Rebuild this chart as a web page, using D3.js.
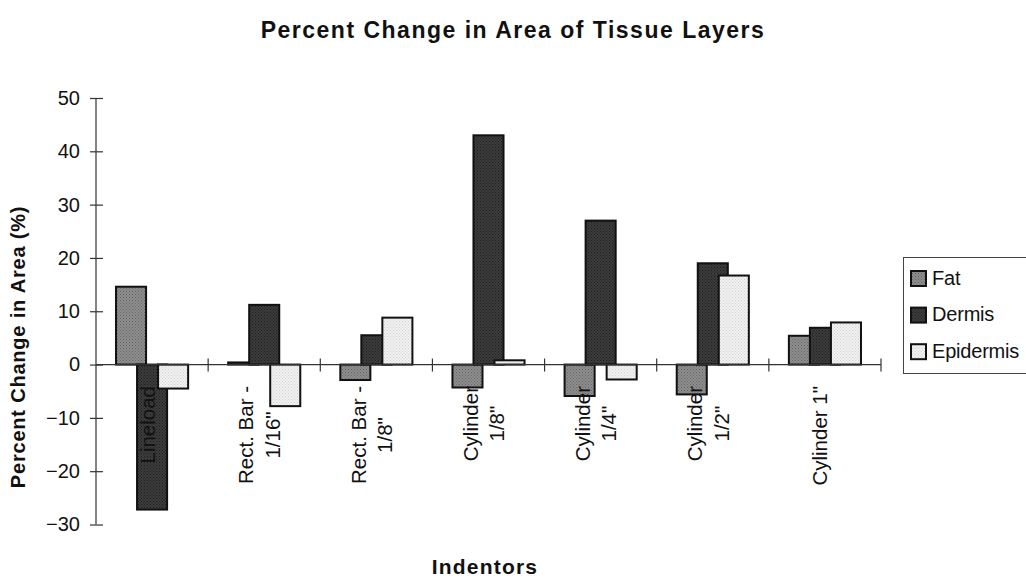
<!DOCTYPE html>
<html>
<head>
<meta charset="utf-8">
<script src="https://cdn.jsdelivr.net/npm/d3@7"></script>
<style>
  html, body { margin: 0; padding: 0; background: #fff; }
  svg { display: block; font-family: "Liberation Sans", Arial, Helvetica, sans-serif; }
</style>
</head>
<body>
<svg id="chart" width="1026" height="581"></svg>
<script>
// ---- data ----
const categories = ["Lineload", "Rect. Bar - 1/16\"", "Rect. Bar - 1/8\"", "Cylinder 1/8\"", "Cylinder 1/4\"", "Cylinder 1/2\"", "Cylinder 1\""];
const categoryLines = [["Lineload"], ["Rect. Bar -", "1/16\""], ["Rect. Bar -", "1/8\""], ["Cylinder", "1/8\""], ["Cylinder", "1/4\""], ["Cylinder", "1/2\""], ["Cylinder 1\""]];
const seriesNames = ["Fat", "Dermis", "Epidermis"];
const fatValues = [14.6, 0.4, -2.9, -4.3, -5.9, -5.6, 5.4];
const dermisValues = [-27.2, 11.2, 5.5, 43.0, 27.0, 19.0, 6.9];
const epidermisValues = [-4.5, -7.8, 8.8, 0.8, -2.8, 16.7, 7.9];
const yTicks = [-30, -20, -10, 0, 10, 20, 30, 40, 50];
const titleText = "Percent Change in Area of Tissue Layers";
const xTitle = "Indentors";
const yTitle = "Percent Change in Area (%)";

const seriesValues = [fatValues, dermisValues, epidermisValues];
const seriesFill = ["url(#patFat)", "url(#patDermis)", "url(#patEpi)"];

const svg = d3.select("#chart");

// patterns (stippled fills)
const defs = svg.append("defs");
function makePattern(id, bg, dot) {
  const p = defs.append("pattern").attr("id", id).attr("patternUnits", "userSpaceOnUse")
    .attr("width", 3).attr("height", 3);
  p.append("rect").attr("width", 3).attr("height", 3).attr("fill", bg);
  p.append("rect").attr("x", 0).attr("y", 0).attr("width", 1).attr("height", 1).attr("fill", dot);
  p.append("rect").attr("x", 1.5).attr("y", 1.5).attr("width", 1).attr("height", 1).attr("fill", dot);
}
makePattern("patFat", "#8e8e8e", "#666666");
makePattern("patDermis", "#3c3c3c", "#1e1e1e");
makePattern("patEpi", "#f2f2f2", "#cfcfcf");

const x0 = 96, x1 = 881, yTop = 98, yBot = 524.5;

const x = d3.scaleBand().domain(categories).range([x0, x1]).padding(0);
const y = d3.scaleLinear().domain([-30, 50]).range([yBot, yTop]);

const bw = x.bandwidth();
const barW = bw * 0.268;
const step = bw * 0.1875;
const groupW = step * 2 + barW;
const off = (bw - groupW) / 2;

// title
svg.append("text").attr("x", 513).attr("y", 38).attr("text-anchor", "middle")
  .attr("font-weight", "bold").attr("font-size", 23).attr("letter-spacing", 1.5)
  .attr("fill", "#111").text(titleText);

// bars (series in order so later series draw over earlier)
seriesValues.forEach((vals, si) => {
  svg.append("g").selectAll("rect").data(vals).join("rect")
    .attr("x", (d, i) => x(categories[i]) + off + si * step)
    .attr("width", barW)
    .attr("y", d => y(Math.max(0, d)))
    .attr("height", d => Math.abs(y(d) - y(0)))
    .attr("fill", seriesFill[si])
    .attr("stroke", "#111").attr("stroke-width", 2);
});

// y axis
const yAxisG = svg.append("g").attr("transform", `translate(${x0},0)`)
  .call(d3.axisLeft(y).tickValues(yTicks).tickSize(6).tickPadding(10).tickFormat(d3.format("d")));
yAxisG.select(".domain").attr("stroke", "#333").attr("stroke-width", 1.2).attr("d", `M0,${yTop}V${yBot}`);
yAxisG.selectAll(".tick line").attr("x1", -6).attr("x2", 7).attr("stroke", "#333").attr("stroke-width", 1.2);
yAxisG.selectAll(".tick text").attr("font-size", 20).attr("fill", "#111")
  .attr("font-family", "'Liberation Sans', Arial, sans-serif");

// x axis (zero line) with category separators
const xBounds = categories.map(c => x(c) + bw);
const xAxisG = svg.append("g");
xAxisG.append("line").attr("x1", x0).attr("x2", x1).attr("y1", y(0)).attr("y2", y(0))
  .attr("stroke", "#333").attr("stroke-width", 1.2);
xAxisG.selectAll("line.sep").data(xBounds).join("line").attr("class", "sep")
  .attr("x1", d => d).attr("x2", d => d).attr("y1", y(0) - 6).attr("y2", y(0) + 7)
  .attr("stroke", "#333").attr("stroke-width", 1.2);

// category labels (rotated, lines centred, block top-aligned)
const labelTop = 386;
const lineGap = 26.7;
categoryLines.forEach((lines, ci) => {
  const cx = x(categories[ci]) + bw / 2;
  const g = svg.append("g");
  const texts = lines.map((t, li) => g.append("text").attr("font-size", 20.5).attr("fill", "#111")
    .attr("text-anchor", "middle").text(t));
  const maxLen = d3.max(texts, t => t.node().getComputedTextLength());
  texts.forEach((t, li) => {
    const bx = cx + 2.5 + (li - (lines.length - 1) / 2) * lineGap;
    t.attr("transform", `translate(${bx},${labelTop + maxLen / 2}) rotate(-90)`);
  });
});

// axis titles
svg.append("text").attr("x", 485).attr("y", 574).attr("text-anchor", "middle")
  .attr("font-weight", "bold").attr("font-size", 21).attr("letter-spacing", 1.2)
  .attr("fill", "#111").text(xTitle);
svg.append("text").attr("transform", "translate(25,347) rotate(-90)").attr("text-anchor", "middle")
  .attr("font-weight", "bold").attr("font-size", 20).attr("letter-spacing", 0.8)
  .attr("fill", "#111").text(yTitle);

// legend
const lg = svg.append("g");
lg.append("rect").attr("x", 903.5).attr("y", 257.5).attr("width", 140).attr("height", 116)
  .attr("fill", "#fff").attr("stroke", "#444").attr("stroke-width", 1);
seriesNames.forEach((n, i) => {
  const yy = 271 + i * 36.6;
  lg.append("rect").attr("x", 911).attr("y", yy).attr("width", 15).attr("height", 15)
    .attr("fill", seriesFill[i]).attr("stroke", "#111").attr("stroke-width", 2);
  lg.append("text").attr("x", 932).attr("y", yy + 13.5).attr("font-size", 20).attr("fill", "#111")
    .attr("letter-spacing", -0.2).text(n);
});
</script>
</body>
</html>
